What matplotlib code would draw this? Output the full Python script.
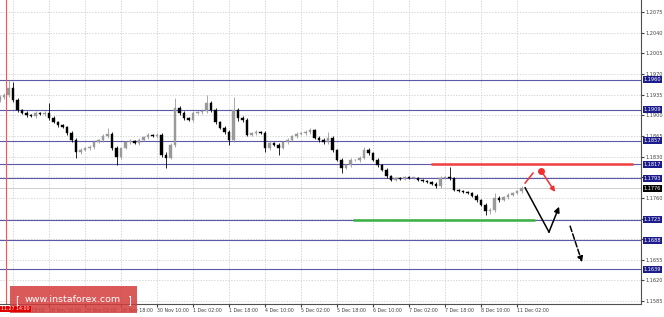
import matplotlib.pyplot as plt
import matplotlib.transforms as mtransforms
from matplotlib.patches import Rectangle
import numpy as np

# H2 candles, bar index counted in H1 bars from 27 Nov 18:00
bar_start = -6
first_open = 1.1925
closes = [
    1.1931, 1.1934, 1.1946, 1.1926, 1.1909, 1.1904, 1.1900, 1.1899, 1.1904, 1.1902,
    1.1904, 1.1895, 1.1889, 1.1883, 1.1880, 1.1870, 1.1858, 1.1838, 1.1841, 1.1844,
    1.1846, 1.1855, 1.1858, 1.1865, 1.1868, 1.1844, 1.1829, 1.1844, 1.1855, 1.1856,
    1.1853, 1.1858, 1.1863, 1.1867, 1.1865, 1.1867, 1.1833, 1.1828, 1.1850, 1.1912,
    1.1904, 1.1895, 1.1892, 1.1904, 1.1905, 1.1907, 1.1921, 1.1909, 1.1889, 1.1878,
    1.1872, 1.1858, 1.1909, 1.1895, 1.1892, 1.1867, 1.1870, 1.1872, 1.1870, 1.1844,
    1.1853, 1.1850, 1.1844, 1.1855, 1.1858, 1.1865, 1.1868, 1.1870, 1.1872, 1.1875,
    1.1861, 1.1858, 1.1855, 1.1861, 1.1841, 1.1824, 1.1811, 1.1816, 1.1824, 1.1824,
    1.1828, 1.1841, 1.1836, 1.1824, 1.1816, 1.1807, 1.1797, 1.1790, 1.1794, 1.1792,
    1.1795, 1.1794, 1.1794, 1.1790, 1.1789, 1.1787, 1.1784, 1.1780, 1.1794, 1.1795,
    1.1794, 1.1773, 1.1772, 1.1770, 1.1768, 1.1763, 1.1756, 1.1748, 1.1738, 1.1739,
    1.1760, 1.1756, 1.1761, 1.1765, 1.1768, 1.1772, 1.1777,
]
# wick lengths in pips above / below the body
up_wick = [
    3, 3, 14, 10, 3, 2, 3, 2, 3, 2,
    3, 17, 3, 2, 3, 2, 3, 4, 3, 2,
    3, 3, 2, 3, 10, 3, 4, 3, 2, 3,
    2, 3, 2, 3, 2, 3, 3, 4, 3, 17,
    3, 3, 2, 3, 2, 3, 13, 3, 3, 2,
    3, 3, 22, 4, 3, 3, 2, 3, 2, 3,
    3, 2, 3, 2, 3, 2, 3, 2, 3, 3,
    2, 3, 3, 11, 3, 2, 3, 2, 3, 2,
    3, 5, 3, 2, 3, 2, 3, 2, 2, 2,
    2, 2, 2, 2, 2, 2, 2, 3, 3, 2,
    17, 2, 2, 2, 2, 2, 3, 2, 3, 3,
    8, 3, 2, 3, 2, 2, 3,
]
dn_wick = [
    3, 3, 3, 3, 3, 2, 3, 2, 3, 2,
    3, 3, 2, 3, 2, 3, 3, 10, 3, 2,
    3, 3, 2, 3, 3, 3, 13, 3, 2, 3,
    2, 3, 2, 3, 2, 3, 3, 17, 3, 3,
    3, 3, 2, 3, 2, 3, 3, 3, 3, 2,
    3, 8, 3, 4, 3, 3, 2, 3, 2, 6,
    3, 2, 11, 2, 3, 2, 3, 2, 3, 3,
    2, 3, 3, 3, 3, 2, 9, 2, 3, 2,
    3, 3, 3, 2, 3, 2, 3, 2, 2, 2,
    2, 2, 2, 2, 2, 2, 2, 4, 3, 2,
    3, 2, 2, 2, 2, 2, 3, 2, 7, 6,
    3, 3, 2, 3, 2, 2, 3,
]

tick_bars = [0, 16, 32, 48, 64, 80, 96, 112, 128, 144, 160, 176, 192, 208, 224]
tick_labels = ['27 Nov 18:00', '28 Nov 10:00', '29 Nov 02:00', '29 Nov 18:00',
               '30 Nov 10:00', '1 Dec 02:00', '1 Dec 18:00', '4 Dec 10:00',
               '5 Dec 02:00', '5 Dec 18:00', '6 Dec 10:00', '7 Dec 02:00',
               '7 Dec 18:00', '8 Dec 10:00', '11 Dec 02:00']
price_ticks = [1.2075, 1.2040, 1.2005, 1.1970, 1.1935, 1.1900, 1.1865, 1.1830,
               1.1795, 1.1760, 1.1725, 1.1690, 1.1655, 1.1620, 1.1585]
levels = [1.1960, 1.1909, 1.1857, 1.1817, 1.1793, 1.1723, 1.1688, 1.1639]
last_price = 1.1776
resist_level, resist_span = 1.1817, (185.8, 275.6)
support_level, support_span = 1.1723, (151.1, 232.0)
marker_bar = -3
marker_label = '11.27 14:00'

# forecast sketch
red_dash_x, red_dash_y = [227.6, 231.1], [1.1785, 1.1802]
red_dot = (234.7, 1.1806)
red_arrow_end = (240.9, 1.1770)
black_path_x, black_path_y = [227.6, 238.2, 242.7], [1.1777, 1.1702, 1.1745]
black_dash_x, black_dash_y = [247.6, 252.9], [1.1712, 1.1651]

W, H = 664, 317
fig = plt.figure(figsize=(W / 100, H / 100), dpi=100)
ax = fig.add_axes([0, 13 / H, 641 / W, 304 / H])
ax.set_xlim(-5.8, 279.1)
ax.set_ylim(1.15801, 1.20953)

grid_kw = dict(color='#c8c8c8', lw=0.5, ls=(0, (2, 2)), zorder=0)
for p in price_ticks:
    ax.axhline(p, **grid_kw)
for b in tick_bars:
    ax.axvline(b, **grid_kw)

# level lines
for lv in levels:
    ax.axhline(lv, color='#5a5aa8', lw=0.8, zorder=1)
ax.axhline(last_price, color='#c8c8c8', lw=0.6, zorder=1)
ax.axvline(marker_bar, color='#ff5050', lw=0.8, zorder=1)

# candles
closes = np.array(closes)
opens = np.concatenate([[first_open], closes[:-1]])
xs = bar_start + 2 * np.arange(len(closes))
tops = np.maximum(opens, closes)
bots = np.minimum(opens, closes)
highs = tops + np.array(up_wick) * 1e-4
lows = bots - np.array(dn_wick) * 1e-4
cols = np.where(closes >= opens, '#9a9a9a', '#000000')
ax.vlines(xs, lows, highs, colors=cols, lw=0.6, zorder=3)
ax.bar(xs, np.maximum(tops - bots, 0.00008), bottom=bots, width=1.1,
       color=cols, edgecolor=cols, lw=0.3, zorder=4)

# resistance / support
ax.hlines(resist_level, *resist_span, color='#f04040', lw=1.8, zorder=5)
ax.hlines(support_level, *support_span, color='#3cb043', lw=1.8, zorder=5)

# forecast arrows
ax.plot(red_dash_x, red_dash_y, color='#f03030', lw=1.1, zorder=6)
ax.plot(*red_dot, 'o', color='#f03030', ms=4, zorder=6)
ax.annotate('', xy=red_arrow_end, xytext=red_dot,
            arrowprops=dict(arrowstyle='-|>', color='#f03030', lw=1.1,
                            mutation_scale=7, shrinkA=0, shrinkB=0), zorder=6)
ax.plot(black_path_x[:2], black_path_y[:2], color='black', lw=1.1, zorder=6)
ax.annotate('', xy=(black_path_x[2], black_path_y[2]),
            xytext=(black_path_x[1], black_path_y[1]),
            arrowprops=dict(arrowstyle='-|>', color='black', lw=1.1,
                            mutation_scale=8, shrinkA=0, shrinkB=0), zorder=6)
ax.annotate('', xy=(black_dash_x[1], black_dash_y[1]),
            xytext=(black_dash_x[0], black_dash_y[0]),
            arrowprops=dict(arrowstyle='-|>', color='black', lw=1.1, ls='--',
                            mutation_scale=8, shrinkA=0, shrinkB=0), zorder=6)

# axes styling
for s in ['top', 'left']:
    ax.spines[s].set_visible(False)
for s in ['right', 'bottom']:
    ax.spines[s].set_color('#505050')
    ax.spines[s].set_linewidth(0.8)
ax.yaxis.tick_right()
ax.set_yticks(price_ticks)
# tick labels that sit under a level box are hidden, as in the terminal
covered = [p for p in price_ticks if any(abs(p - lv) < 0.0006 for lv in levels)]
ax.set_yticklabels(['' if p in covered else f'{p:.4f}' for p in price_ticks])
ax.set_xticks(tick_bars)
ax.set_xticklabels(tick_labels, ha='left')
ax.tick_params(axis='y', labelsize=3.6, length=2, pad=1.5, colors='#404040')
ax.tick_params(axis='x', labelsize=3.4, length=2, pad=1, colors='#404040')

trans = mtransforms.blended_transform_factory(ax.transAxes, ax.transData)
for lv in levels:
    ax.text(1.004, lv, f'{lv:.4f}', transform=trans, ha='left', va='center',
            fontsize=3.6, color='white', clip_on=False, zorder=10,
            bbox=dict(boxstyle='square,pad=0.2', fc='#1c1c8c', ec='none'))
ax.text(1.004, last_price, f'{last_price:.4f}', transform=trans, ha='left',
        va='center', fontsize=3.6, color='white', clip_on=False, zorder=10,
        bbox=dict(boxstyle='square,pad=0.2', fc='black', ec='none'))

# watermark
fig.patches.append(Rectangle((10 / W, 4 / H), 127 / W, 27 / H, transform=fig.transFigure,
                             fc='#d43c3c', alpha=0.85, ec='none', zorder=20))
fig.text(73 / W, 17 / H, 'www.instaforex.com', color='white', fontsize=6.8,
         ha='center', va='center', zorder=21)
fig.text(17 / W, 17 / H, '[', color='white', fontsize=7, ha='center', va='center', zorder=21)
fig.text(129 / W, 17 / H, ']', color='white', fontsize=7, ha='center', va='center', zorder=21)
fig.text(1 / W, 8 / H, marker_label, color='white', fontsize=3.4, ha='left', va='center',
         zorder=22, bbox=dict(boxstyle='square,pad=0.2', fc='#e00000', ec='none'))

fig.savefig('out.png', dpi=100)
